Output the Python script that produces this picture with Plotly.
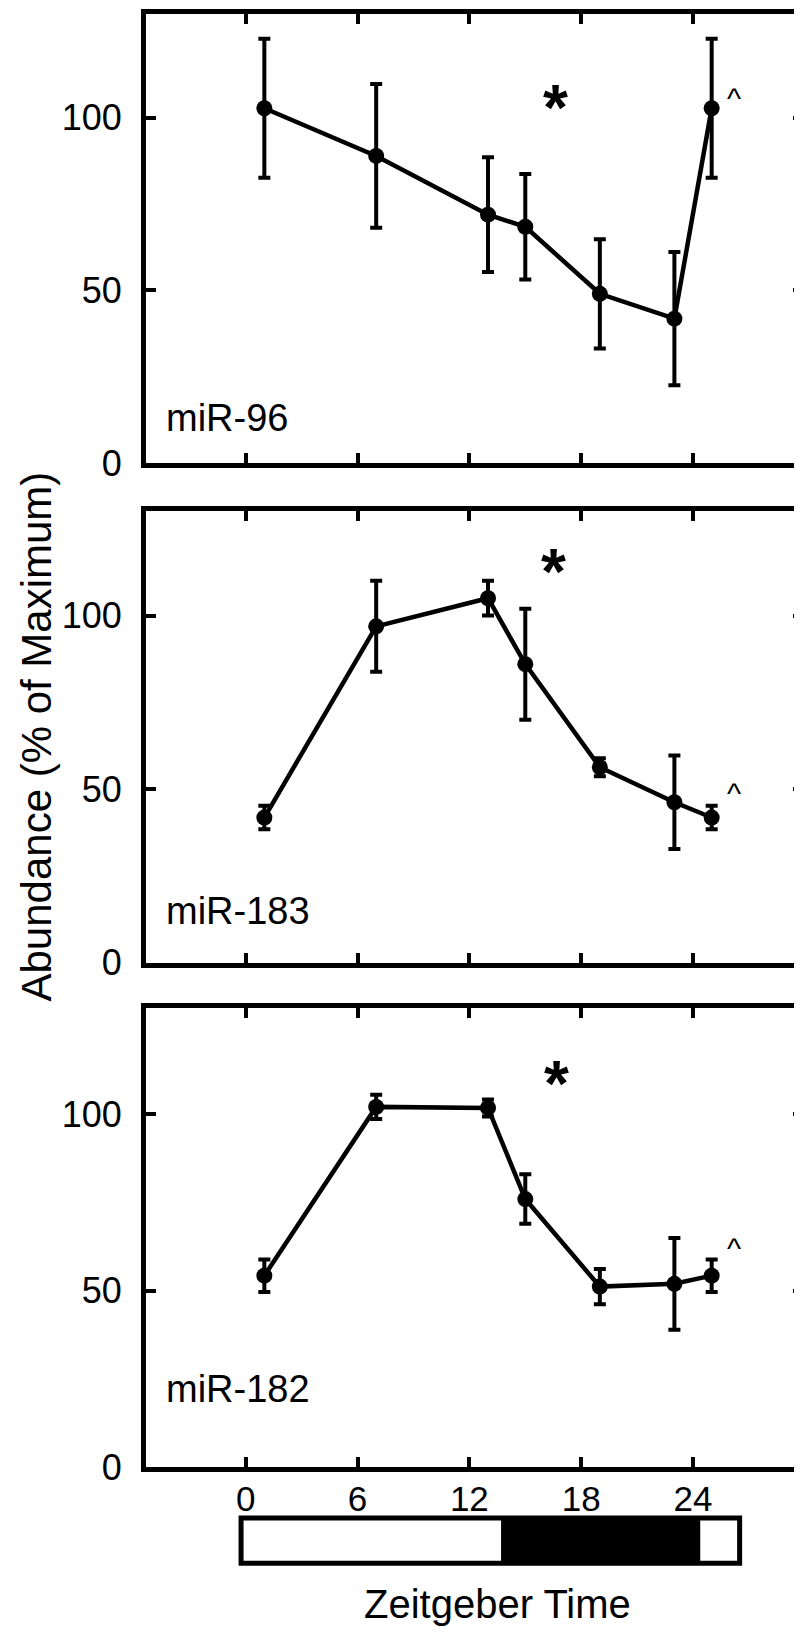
import plotly.graph_objects as go

# ---- data ----
zt = [1, 7, 13, 15, 19, 23, 25]
mir96 = [102.7, 88.9, 71.9, 68.4, 49.0, 41.8, 102.7]
mir96_err = [20.1, 20.8, 16.6, 15.3, 15.8, 19.3, 20.1]
mir183 = [41.8, 96.9, 105.0, 86.0, 56.3, 46.2, 41.8]
mir183_err = [3.4, 13.1, 5.0, 16.0, 2.6, 13.5, 3.4]
mir182 = [54.2, 102.0, 101.7, 75.9, 51.1, 51.9, 54.2]
mir182_err = [4.6, 3.4, 2.4, 7.0, 5.0, 13.0, 4.6]
panel_names = ["miR-96", "miR-183", "miR-182"]
x_ticks = [0, 6, 12, 18, 24]
x_tick_labels = ["0", "6", "12", "18", "24"]
y_ticks = [0, 50, 100]
y_tick_labels = ["0", "50", "100"]
# light/dark schedule (ZT start, ZT end, colour)
light_phases = [(-0.25, 13.7, "white"), (13.7, 24.4, "black"), (24.4, 26.5, "white")]
# significance markers (x, y) per panel
star_pos = [(16.6, 104.3), (16.5, 114.2), (16.7, 110.1)]
caret_pos = [(26.2, 106.6), (26.2, 49.7), (26.2, 62.9)]

series = [(mir96, mir96_err), (mir183, mir183_err), (mir182, mir182_err)]

W, H = 802, 1638
FONT = "Liberation Sans, Arial, Helvetica, sans-serif"
x_dom = [138 / W, 795 / W]
panels_px = [(6, 461), (510, 967), (1013, 1478)]
y_doms = [[1 - b / H, 1 - t / H] for t, b in panels_px]
X_RANGE = [-5.35, 29.9]
Y_RANGE = [0, 130]

fig = go.Figure()
for i, (vals, errs) in enumerate(series):
    n = i + 1
    fig.add_trace(go.Scatter(
        x=zt, y=vals, mode="lines+markers",
        xaxis=f"x{n}", yaxis=f"y{n}",
        line=dict(color="black", width=4.5),
        marker=dict(color="black", size=16, symbol="circle"),
        error_y=dict(type="data", array=errs, visible=True,
                     color="black", thickness=4, width=6),
        showlegend=False, hoverinfo="skip",
    ))

layout = dict(width=W, height=H, margin=dict(l=0, r=0, t=0, b=0),
              paper_bgcolor="white", plot_bgcolor="white",
              font=dict(family=FONT, color="black", size=36))

for i in range(3):
    n = i + 1
    layout[f"xaxis{n}"] = dict(
        domain=x_dom, range=X_RANGE, anchor=f"y{n}",
        tickmode="array", tickvals=x_ticks, ticktext=x_tick_labels,
        ticks="inside", ticklen=10, tickwidth=3.5, tickcolor="black",
        showline=True, linewidth=5, linecolor="black", mirror="allticks",
        showgrid=False, zeroline=False,
        showticklabels=(i == 2), tickfont=dict(size=35, family=FONT),
        ticklabelstandoff=-3,
    )
    layout[f"yaxis{n}"] = dict(
        domain=y_doms[i], range=Y_RANGE, anchor=f"x{n}",
        tickmode="array", tickvals=y_ticks, ticktext=y_tick_labels,
        ticks="inside", ticklen=10, tickwidth=3.5, tickcolor="black",
        showline=True, linewidth=5, linecolor="black", mirror="allticks",
        showgrid=False, zeroline=False,
        tickfont=dict(size=36, family=FONT),
        ticklabelstandoff=12,
    )
fig.update_layout(**layout)

annotations = []
label_y = [13.0, 15.0, 22.0]
for i in range(3):
    n = i + 1
    annotations.append(dict(x=-4.4, y=label_y[i], xref=f"x{n}", yref=f"y{n}",
                            text=panel_names[i], showarrow=False, xanchor="left",
                            yanchor="middle", font=dict(size=38, family=FONT)))
    sx, sy = star_pos[i]
    annotations.append(dict(x=sx, y=sy - 1.5, xref=f"x{n}", yref=f"y{n}",
                            text="<b>*</b>", showarrow=False, xanchor="center",
                            yanchor="middle", font=dict(size=64, family=FONT)))
    cx, cy = caret_pos[i]
    annotations.append(dict(x=cx, y=cy - 1.0, xref=f"x{n}", yref=f"y{n}",
                            text="^", showarrow=False, xanchor="center",
                            yanchor="middle", font=dict(size=30, family=FONT)))

annotations.append(dict(x=29 / W, y=1 - 738 / H, xref="paper", yref="paper",
                        text="Abundance (% of Maximum)", textangle=-90,
                        showarrow=False, xanchor="center", yanchor="middle",
                        font=dict(size=42, family=FONT)))
annotations.append(dict(x=489 / W, y=1 - 1617 / H, xref="paper", yref="paper",
                        text="Zeitgeber Time", showarrow=False,
                        xanchor="center", yanchor="middle",
                        font=dict(size=40, family=FONT)))
fig.update_layout(annotations=annotations)

# light/dark bar
bar_top, bar_bot = 1 - 1529.5 / H, 1 - 1575.5 / H
shapes = []
for x0, x1, col in light_phases:
    shapes.append(dict(type="rect", xref="x3", yref="paper", x0=x0, x1=x1,
                       y0=bar_bot, y1=bar_top, fillcolor=col,
                       line=dict(width=0), layer="above"))
shapes.append(dict(type="rect", xref="x3", yref="paper",
                   x0=light_phases[0][0], x1=light_phases[-1][1],
                   y0=bar_bot, y1=bar_top, fillcolor="rgba(0,0,0,0)",
                   line=dict(color="black", width=5), layer="above"))
fig.update_layout(shapes=shapes)

fig.write_html("out.html")
